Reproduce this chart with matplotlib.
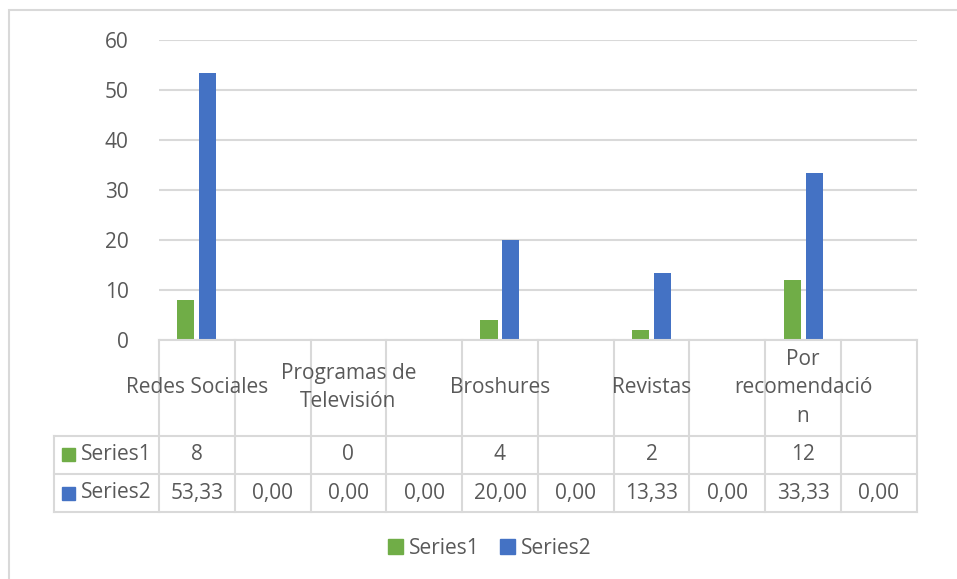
import matplotlib
matplotlib.use("Agg")
from matplotlib import pyplot as plt
from matplotlib.patches import Rectangle, Patch

header = ["Redes Sociales", "", "Programas de\nTelevisión", "", "Broshures", "",
          "Revistas", "", "Por\nrecomendació\nn", ""]
series1 = [8, None, 0, None, 4, None, 2, None, 12, None]
series2 = [53.33, 0.00, 0.00, 0.00, 20.00, 0.00, 13.33, 0.00, 33.33, 0.00]
series_names = ["Series1", "Series2"]

GREEN = "#70AD47"
BLUE = "#4472C4"
GRID = "#d9d9d9"
TXT = "#595959"
FONT = "Open Sans"
FS = 15

W, H = 957, 579
fig = plt.figure(figsize=(W / 100, H / 100), dpi=100)

def px_rect(x0, y0, x1, y1):
    return [x0 / W, 1 - y1 / H, (x1 - x0) / W, (y1 - y0) / H]

# outer chart border
fig.add_artist(Rectangle((9 / W, -0.1), 2, 1 - 10 / H + 0.1, transform=fig.transFigure,
                         fill=False, edgecolor=GRID, lw=1.5))

left, right, top, zero = 159, 916.7, 40, 340
n = len(header)
ax = fig.add_axes(px_rect(left, top, right, zero))
x = list(range(n))
w = 0.225
off = 0.145
s1 = [v if v is not None else 0 for v in series1]
ax.bar([i - off for i in x], s1, width=w, color=GREEN, zorder=3)
ax.bar([i + off for i in x], series2, width=w, color=BLUE, zorder=3)
ax.set_xlim(-0.5, n - 0.5)
ax.set_ylim(0, 60)
ax.set_yticks(range(0, 61, 10))
ax.yaxis.grid(True, color=GRID, lw=1.5, zorder=0)
ax.set_xticks([])
ax.tick_params(axis="y", length=0, pad=22, labelsize=FS, labelcolor=TXT)
for lab in ax.get_yticklabels():
    lab.set_fontfamily(FONT)
for sp in ax.spines.values():
    sp.set_visible(False)

# data table
tleft, tbot = 54, 512
r_head, r1 = 435.7, 474
lab_w = (left - tleft) / ((right - left) / n)
tax = fig.add_axes(px_rect(tleft, zero, right, tbot))
tax.set_xlim(-0.5 - lab_w, n - 0.5)
tax.set_ylim(tbot - zero, 0)
tax.axis("off")
hy = r_head - zero
ry1 = r1 - zero
ry2 = tbot - zero
lkw = dict(color=GRID, lw=1.5, clip_on=False)
tax.plot([-0.5, n - 0.5], [0, 0], **lkw)
tax.plot([-0.5 - lab_w, n - 0.5], [hy, hy], **lkw)
tax.plot([-0.5 - lab_w, n - 0.5], [ry1, ry1], **lkw)
tax.plot([-0.5 - lab_w, n - 0.5], [ry2, ry2], **lkw)
tax.plot([-0.5 - lab_w, -0.5 - lab_w], [hy, ry2], **lkw)
for i in range(n + 1):
    tax.plot([i - 0.5, i - 0.5], [0, ry2], **lkw)

tkw = dict(ha="center", va="center", color=TXT, fontsize=FS, family=FONT)
for i, h in enumerate(header):
    if h:
        tax.text(i, hy / 2, h, linespacing=1.45, **tkw)
for i in range(n):
    if series1[i] is not None:
        tax.text(i, (hy + ry1) / 2, str(series1[i]), **tkw)
    tax.text(i, (ry1 + ry2) / 2, f"{series2[i]:.2f}".replace(".", ","), **tkw)

for k, (name, col) in enumerate(zip(series_names, [GREEN, BLUE])):
    yc = (hy + ry1) / 2 if k == 0 else (ry1 + ry2) / 2
    x0 = -0.5 - lab_w + 0.1
    tax.add_patch(Rectangle((x0, yc - 6.5), 0.18, 13, color=col, clip_on=False))
    tax.text(x0 + 0.25, yc, name, ha="left", va="center", color=TXT, fontsize=FS, family=FONT)

handles = [Patch(color=GREEN, label=series_names[0]), Patch(color=BLUE, label=series_names[1])]
leg = fig.legend(handles=handles, loc="center", bbox_to_anchor=(490 / W, 1 - 548 / H), ncol=2,
                 frameon=False, handlelength=0.7, handleheight=0.7, handletextpad=0.3,
                 columnspacing=1.0, prop={"family": FONT, "size": FS})
for t in leg.get_texts():
    t.set_color(TXT)

fig.savefig("out.png", dpi=100)
